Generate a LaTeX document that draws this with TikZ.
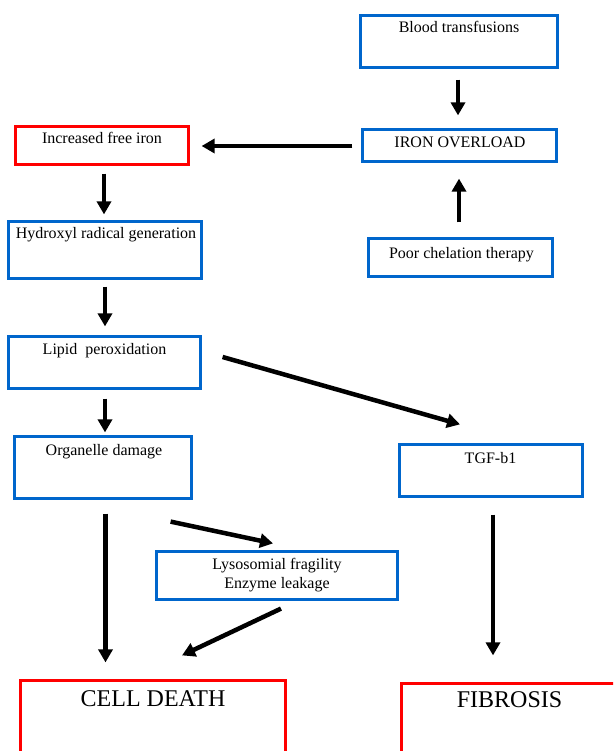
\documentclass[tikz,border=0pt]{standalone}
\usepackage{fontspec}
\setmainfont{Liberation Serif}
\usetikzlibrary{arrows.meta,calc}
\definecolor{boxblue}{RGB}{0,102,204}
\definecolor{boxred}{RGB}{255,0,0}
\tikzset{
  bluebox/.style={draw=boxblue, line width=3.2pt, rectangle, inner sep=0pt},
  redbox/.style={draw=boxred, line width=3.2pt, rectangle, inner sep=0pt},
  lbl/.style={anchor=base, inner sep=0pt, font=\fontsize{16}{19}\selectfont},
  biglbl/.style={anchor=base, inner sep=0pt, font=\fontsize{24}{28}\selectfont},
  arr/.style={line width=4.5pt, -{Triangle[length=13pt,width=14pt]}}
}
\begin{document}
\begin{tikzpicture}[x=1pt,y=-1pt]
\useasboundingbox (0,0) rectangle (613,751);
\clip (0,0) rectangle (613,751);
% boxes
\node[bluebox, minimum width=197pt, minimum height=52pt] (blood) at (459,41.5) {};
\node[bluebox, minimum width=194pt, minimum height=32pt] (iron) at (459.5,145.5) {};
\node[redbox, minimum width=173pt, minimum height=38pt] (incr) at (102,145.5) {};
\node[bluebox, minimum width=193pt, minimum height=57pt] (hydroxyl) at (105,250) {};
\node[bluebox, minimum width=184pt, minimum height=38pt] (poor) at (460.5,257.5) {};
\node[bluebox, minimum width=192pt, minimum height=52pt] (lipid) at (104.5,362.5) {};
\node[bluebox, minimum width=177pt, minimum height=62pt] (organelle) at (103,467.5) {};
\node[bluebox, minimum width=183pt, minimum height=52pt] (tgf) at (491,470.5) {};
\node[bluebox, minimum width=241pt, minimum height=48pt] (lyso) at (277,575.5) {};
\node[redbox, minimum width=265pt, minimum height=100pt] (cell) at (153,730.5) {};
\node[redbox, minimum width=216pt, minimum height=100pt] (fib) at (509.5,733.5) {};
% texts
\node[lbl] (tblood) at (459,33) {Blood transfusions};
\node[lbl] (tiron) at (460,147.3) {IRON OVERLOAD};
\node[lbl] (tincr) at (102,144) {Increased free iron};
\node[lbl] (thyd) at (106,238) {Hydroxyl radical generation};
\node[lbl] (tpoor) at (461.5,258) {Poor chelation therapy};
\node[lbl] (tlipid) at (104.5,354) {Lipid\ \ peroxidation};
\node[lbl] (torg) at (104,455) {Organelle damage};
\node[lbl] (ttgf) at (490.5,463) {TGF-b1};
\node[lbl, align=center] (tlyso) at (277,588) {Lysosomial fragility\\Enzyme leakage};
\node[biglbl] (tcell) at (153,706) {CELL DEATH};
\node[biglbl] (tfib) at (509.5,707) {FIBROSIS};
% arrows
\draw[arr] ($(blood.south)+(-1,10.5)$) -- ($(iron.north)+(-1.5,-12.5)$);
\draw[arr] ($(iron.west)+(-8.5,0.5)$) -- ($(incr.east)+(11.5,0.5)$);
\draw[arr] ($(poor.north)+(-1.5,-14.5)$) -- ($(iron.south)+(-0.5,15.5)$);
\draw[arr] ($(incr.south)+(2,7.5)$) -- ($(hydroxyl.north)+(-1,-5.5)$);
\draw[arr] ($(hydroxyl.south)+(0,6.5)$) -- ($(lipid.north)+(0.5,-8.5)$);
\draw[arr] ($(lipid.east)+(20.5,-5.5)$) -- ($(tgf.north)+(-31,-18.5)$);
\draw[arr] ($(lipid.south)+(0.5,8.5)$) -- ($(organelle.north)+(2,-2.5)$);
\draw[arr] ($(organelle.south)+(2.5,13.5)$) -- ($(cell.north)+(-47.5,-16.5)$);
\draw[arr] ($(organelle.south east)+(-22.5,21.5)$) -- ($(lyso.north)+(-4,-6.5)$);
\draw[arr] ($(lyso.south)+(4,7.5)$) -- ($(cell.north)+(29,-23.5)$);
\draw[arr] ($(tgf.south)+(2,16.5)$) -- ($(fib.north)+(-16.5,-26.5)$);
\end{tikzpicture}
\end{document}
